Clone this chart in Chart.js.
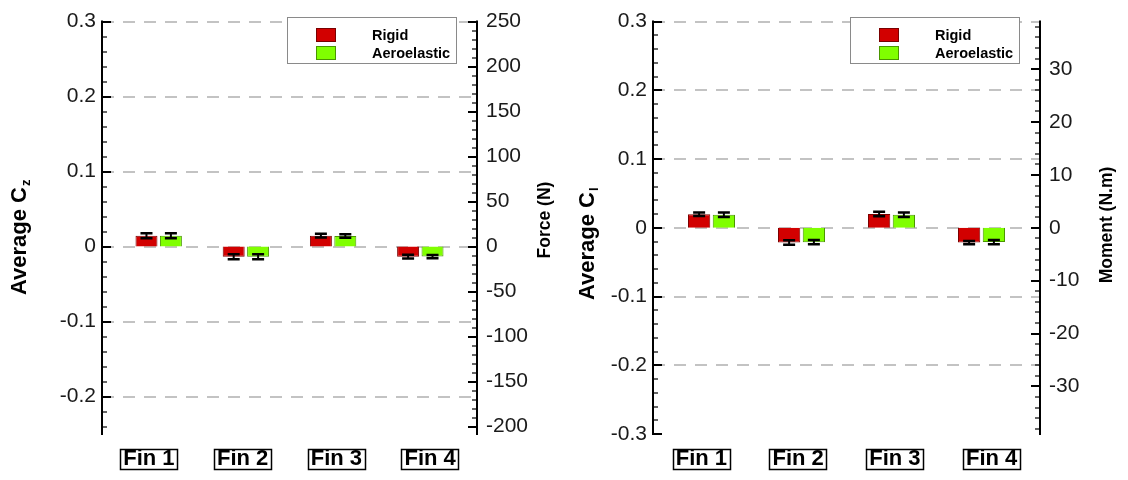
<!DOCTYPE html>
<html>
<head>
<meta charset="utf-8">
<script src="https://cdn.jsdelivr.net/npm/chart.js@4/dist/chart.umd.min.js"></script>
<style>
  html, body { margin: 0; padding: 0; background: #fff; }
  #wrap { display: flex; width: 1128px; height: 480px; }
  canvas { display: block; }
</style>
</head>
<body>
<div id="wrap">
  <canvas id="czChart" width="560" height="480"></canvas>
  <canvas id="clChart" width="568" height="480"></canvas>
</div>
<script>
// ---- data ----
const fins = ['Fin 1', 'Fin 2', 'Fin 3', 'Fin 4'];
const finIndex = [0, 1, 2, 3];
const seriesNames = ['Rigid', 'Aeroelastic'];

// average normal-force coefficient per fin, with +/- spread
const czRigid    = [0.0145, -0.0135, 0.0145, -0.0135];
const czRigidErr = [0.0033, 0.0033, 0.0024, 0.0024];
const czAero     = [0.0143, -0.0135, 0.0141, -0.0134];
const czAeroErr  = [0.0033, 0.0033, 0.0024, 0.0022];

// average rolling-moment coefficient per fin, with +/- spread
const clRigid    = [0.0198, -0.0215, 0.0200, -0.0215];
const clRigidErr = [0.0026, 0.0033, 0.0033, 0.0024];
const clAero     = [0.0190, -0.0210, 0.0190, -0.0208];
const clAeroErr  = [0.0033, 0.0031, 0.0033, 0.0031];

// axis tick labels
const czTicks     = [-0.2, -0.1, 0, 0.1, 0.2, 0.3];
const forceTicks  = [-200, -150, -100, -50, 0, 50, 100, 150, 200, 250];
const clTicks     = [-0.3, -0.2, -0.1, 0, 0.1, 0.2, 0.3];
const momentTicks = [-30, -20, -10, 0, 10, 20, 30];

// coefficient ranges and dimensional conversion factors
const czRange = [-0.25, 0.3];
const clRange = [-0.3, 0.3];
const forcePerCz  = 250 / 0.3;   // N per unit Cz
const momentPerCl = 130;         // N.m per unit Cl

// ---- styling ----
const FONT = '"Liberation Sans", Arial, sans-serif';
const rigidFill = '#d20000', rigidEdge = '#7a0000';
const aeroFill  = '#80ff00', aeroEdge  = '#4a9600';

const fmtCoef = v => (Math.abs(v) < 1e-9 ? '0' : String(Math.round(v * 10) / 10));

// dashed horizontal grid, axis frames with inward ticks, label boxes, titles, legend, error bars
const framePlugin = {
  id: 'frame',
  beforeDatasetsDraw(chart, args, opts) {
    const ctx = chart.ctx, a = chart.chartArea, ys = chart.scales.y;
    ctx.save();
    ctx.strokeStyle = '#c3c3c3';
    ctx.lineWidth = 2;
    ctx.setLineDash([12, 9]);
    ys.ticks.forEach(t => {
      if (Math.abs(t.value - ys.min) < 1e-9) return;
      const y = Math.round(ys.getPixelForValue(t.value));
      ctx.beginPath();
      ctx.moveTo(a.left, y);
      ctx.lineTo(a.right, y);
      ctx.stroke();
    });
    ctx.restore();
  },
  afterDatasetsDraw(chart) {
    const ctx = chart.ctx, ys = chart.scales.y;
    ctx.save();
    ctx.strokeStyle = '#000';
    chart.data.datasets.forEach((ds, di) => {
      const meta = chart.getDatasetMeta(di);
      meta.data.forEach((bar, i) => {
        const v = ds.data[i].y, e = ds.err[i];
        const yTop = ys.getPixelForValue(v + e);
        const yBot = ys.getPixelForValue(v - e);
        const x = bar.x;
        ctx.lineWidth = 2;
        ctx.beginPath();
        ctx.moveTo(x, yTop); ctx.lineTo(x, yBot);
        ctx.stroke();
        ctx.lineWidth = 2.5;
        ctx.beginPath();
        ctx.moveTo(x - 6, yTop); ctx.lineTo(x + 6, yTop);
        ctx.moveTo(x - 6, yBot); ctx.lineTo(x + 6, yBot);
        ctx.stroke();
      });
    });
    ctx.restore();
  },
  afterDraw(chart, args, opts) {
    const ctx = chart.ctx, a = chart.chartArea;
    ctx.save();

    // axis lines with major / minor ticks pointing into the plot
    const drawAxis = (scale, xLine, dir, minorStep, majors) => {
      ctx.strokeStyle = '#000';
      ctx.lineWidth = 2;
      ctx.beginPath();
      ctx.moveTo(xLine, a.top - 1); ctx.lineTo(xLine, a.bottom + 1);
      ctx.stroke();
      const k0 = Math.ceil(scale.min / minorStep - 1e-6);
      const k1 = Math.floor(scale.max / minorStep + 1e-6);
      for (let k = k0; k <= k1; k++) {
        const v = k * minorStep;
        const major = majors.some(m => Math.abs(m - v) < minorStep * 1e-3);
        const y = Math.round(scale.getPixelForValue(v));
        ctx.lineWidth = major ? 2 : 1.2;
        ctx.beginPath();
        ctx.moveTo(xLine, y);
        ctx.lineTo(xLine + dir * (major ? 9 : 5), y);
        ctx.stroke();
      }
    };
    drawAxis(chart.scales.y, a.left, 1, opts.minorY, opts.majorY);
    drawAxis(chart.scales.y2, a.right, -1, opts.minorY2, opts.majorY2);

    // boxes round the fin labels
    const xl = chart.scales.xl;
    ctx.font = 'bold 22px ' + FONT;
    ctx.lineWidth = 1.5;
    ctx.strokeStyle = '#000';
    const midY = xl.top + 12 + 22 * 1.2 / 2;
    xl.ticks.forEach((t, i) => {
      const x = xl.getPixelForTick(i);
      const w = ctx.measureText(fins[i]).width;
      ctx.strokeRect(Math.round(x - w / 2 - 3) + 0.5, Math.round(midY - 10) + 0.5, Math.round(w + 6), 20);
    });

    // axis titles
    ctx.fillStyle = '#000';
    const tl = opts.titleLeft;
    ctx.save();
    ctx.translate(tl.x, tl.start);
    ctx.rotate(-Math.PI / 2);
    ctx.textAlign = 'left';
    ctx.textBaseline = 'alphabetic';
    ctx.font = 'bold 22px ' + FONT;
    ctx.fillText(tl.text, 0, 0);
    const tw = ctx.measureText(tl.text).width;
    ctx.font = 'bold 13px ' + FONT;
    ctx.fillText(tl.sub, tw + 1, 4);
    ctx.restore();

    const tr = opts.titleRight;
    ctx.save();
    ctx.translate(tr.x, tr.y);
    ctx.rotate(-Math.PI / 2);
    ctx.textAlign = 'center';
    ctx.textBaseline = 'alphabetic';
    ctx.font = 'bold 17.5px ' + FONT;
    ctx.fillText(tr.text, 0, 0);
    ctx.restore();

    // legend
    const bx = a.right - 190, by = 17, bw = 169, bh = 46;
    ctx.fillStyle = '#fff';
    ctx.fillRect(bx, by, bw, bh);
    ctx.strokeStyle = '#8a8a8a';
    ctx.lineWidth = 1;
    ctx.strokeRect(bx + 0.5, by + 0.5, bw, bh);
    ctx.font = 'bold 14.5px ' + FONT;
    ctx.textAlign = 'left';
    ctx.textBaseline = 'middle';
    chart.data.datasets.forEach((ds, i) => {
      const sy = by + 11 + i * 18;
      ctx.fillStyle = ds.backgroundColor;
      ctx.fillRect(bx + 29, sy, 20, 14);
      ctx.strokeStyle = ds.borderColor;
      ctx.strokeRect(bx + 29.5, sy + 0.5, 19, 13);
      ctx.fillStyle = '#000';
      ctx.fillText(ds.label, bx + 85, sy + 7.5);
    });
    ctx.restore();
  }
};

function makeChart(id, cfg) {
  const tickFont = { family: FONT, size: 21 };
  return new Chart(document.getElementById(id), {
    type: 'bar',
    data: {
      datasets: [
        { label: seriesNames[0], data: finIndex.map((x, i) => ({ x, y: cfg.rigid[i] })), err: cfg.rigidErr,
          backgroundColor: rigidFill, borderColor: rigidEdge, borderWidth: 1 },
        { label: seriesNames[1], data: finIndex.map((x, i) => ({ x, y: cfg.aero[i] })), err: cfg.aeroErr,
          backgroundColor: aeroFill, borderColor: aeroEdge, borderWidth: 1 }
      ]
    },
    options: {
      responsive: false,
      animation: false,
      devicePixelRatio: 1,
      layout: { padding: { top: 16, left: 0, right: 0, bottom: 0 } },
      datasets: { bar: { categoryPercentage: cfg.catPct, barPercentage: 0.9 } },
      plugins: {
        legend: { display: false },
        tooltip: { enabled: false },
        frame: cfg.frame
      },
      scales: {
        x: {
          type: 'linear', min: -0.65, max: 3.65, offset: false, display: false,
          afterBuildTicks: s => { s.ticks = finIndex.map(v => ({ value: v })); }
        },
        xl: {
          type: 'category', labels: fins, position: 'bottom', offset: true,
          grid: { display: false, drawTicks: false }, border: { display: false },
          ticks: { font: { family: FONT, size: 22, weight: 'bold' }, color: '#000', padding: 12,
                   maxRotation: 0, autoSkip: false },
          afterFit: s => { s.height = 46; }
        },
        y: {
          type: 'linear', position: 'left', min: cfg.range[0], max: cfg.range[1],
          afterBuildTicks: s => { s.ticks = cfg.ticks.map(v => ({ value: v })); },
          grid: { display: false, drawTicks: false }, border: { display: false },
          ticks: { font: tickFont, color: '#1a1a1a', padding: 6, callback: fmtCoef },
          afterFit: s => { s.width = cfg.leftW; }
        },
        y2: {
          type: 'linear', position: 'right', min: cfg.range[0] * cfg.factor, max: cfg.range[1] * cfg.factor,
          afterBuildTicks: s => { s.ticks = cfg.ticks2.map(v => ({ value: v })); },
          grid: { display: false, drawTicks: false }, border: { display: false },
          ticks: { font: tickFont, color: '#1a1a1a', padding: 9, callback: v => String(v) },
          afterFit: s => { s.width = cfg.rightW; }
        }
      }
    },
    plugins: [framePlugin]
  });
}

makeChart('czChart', {
  rigid: czRigid, rigidErr: czRigidErr, aero: czAero, aeroErr: czAeroErr,
  range: czRange, factor: forcePerCz, ticks: czTicks, ticks2: forceTicks,
  leftW: 102, rightW: 83, catPct: 0.56,
  frame: {
    minorY: 0.02, majorY: czTicks, minorY2: 10, majorY2: forceTicks,
    titleLeft: { text: 'Average C', sub: 'z', x: 26, start: 295 },
    titleRight: { text: 'Force (N)', x: 550, y: 220 }
  }
});

makeChart('clChart', {
  rigid: clRigid, rigidErr: clRigidErr, aero: clAero, aeroErr: clAeroErr,
  range: clRange, factor: momentPerCl, ticks: clTicks, ticks2: momentTicks,
  leftW: 93, rightW: 88, catPct: 0.55,
  frame: {
    minorY: 0.02, majorY: clTicks, minorY2: 2, majorY2: momentTicks,
    titleLeft: { text: 'Average C', sub: 'l', x: 34, start: 300 },
    titleRight: { text: 'Moment (N.m)', x: 552, y: 225 }
  }
});
</script>
</body>
</html>
